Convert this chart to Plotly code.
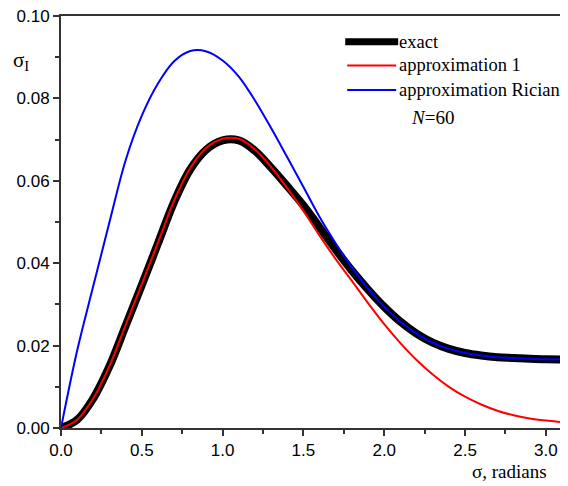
import plotly.graph_objects as go

# ---- data ----
x_exact = [0.0, 0.1, 0.2, 0.3, 0.4, 0.5, 0.6, 0.7, 0.8, 0.9, 1.0, 1.1,
           1.2, 1.3, 1.4, 1.5, 1.6, 1.7, 1.8, 1.9, 2.0, 2.1, 2.2, 2.3, 2.4, 2.5, 2.6,
           2.7, 2.8, 2.9, 3.0, 3.1416]
y_exact = [0.0, 0.0020, 0.0072, 0.0150, 0.0248, 0.0347, 0.0448, 0.0549, 0.0628, 0.0676,
           0.0698, 0.0698, 0.0673, 0.0632, 0.0587, 0.0540, 0.0487, 0.0433, 0.0382, 0.0336,
           0.0294, 0.0258, 0.0229, 0.0207, 0.0192, 0.0182, 0.0176, 0.0172, 0.0170, 0.0168,
           0.0167, 0.0166]

x_approx1 = [0.0, 0.1, 0.2, 0.3, 0.4, 0.5, 0.6, 0.7, 0.8, 0.9, 1.0, 1.1,
             1.2, 1.3, 1.4, 1.5, 1.6, 1.7, 1.8, 1.9, 2.0, 2.1, 2.2, 2.3, 2.4, 2.5, 2.6,
             2.7, 2.8, 2.9, 3.0, 3.1416]
y_approx1 = [0.0, 0.0020, 0.0072, 0.0151, 0.0250, 0.0349, 0.0450, 0.0552, 0.0631, 0.0680,
             0.0702, 0.0702, 0.0676, 0.0633, 0.0582, 0.0527, 0.0467, 0.0410, 0.0357, 0.0303,
             0.0252, 0.0206, 0.0165, 0.0130, 0.0100, 0.0076, 0.0057, 0.0042, 0.0031, 0.0023,
             0.0018, 0.0013]

x_rician = [0.0, 0.1, 0.2, 0.3, 0.4, 0.5, 0.6, 0.7, 0.8, 0.9, 1.0, 1.1, 1.2,
            1.3, 1.4, 1.5, 1.6, 1.7, 1.8, 1.9, 2.0, 2.1, 2.2, 2.3, 2.4, 2.5, 2.6, 2.7,
            2.8, 2.9, 3.0, 3.1416]
y_rician = [0.0, 0.0188, 0.0345, 0.0500, 0.0650, 0.0758, 0.0836, 0.0890, 0.0915, 0.0914,
            0.0892, 0.0853, 0.0795, 0.0728, 0.0657, 0.0585, 0.0512, 0.0448, 0.0390, 0.0338,
            0.0294, 0.0258, 0.0229, 0.0207, 0.0192, 0.0182, 0.0176, 0.0172, 0.0170, 0.0168,
            0.0167, 0.0166]

legend_labels = ["exact", "approximation 1", "approximation Rician"]
y_ticks = [0.0, 0.02, 0.04, 0.06, 0.08, 0.10]
y_ticktext = ["0.00", "0.02", "0.04", "0.06", "0.08", "0.10"]
x_ticks = [0.0, 0.5, 1.0, 1.5, 2.0, 2.5, 3.0]
x_ticktext = ["0.0", "0.5", "1.0", "1.5", "2.0", "2.5", "3.0"]

# the page body has an 8px margin; lay out in page pixels and shift into figure pixels
OFF = 8
W, H = 568 - OFF, 486 - OFF
L, R, T, B = 60.5 - OFF, 568.0 - OFF, 16.0 - OFF, 428.3 - OFF

fig = go.Figure()
fig.add_trace(go.Scatter(x=x_exact, y=y_exact, mode="lines", name=legend_labels[0],
                         line=dict(color="black", width=8, shape="spline", smoothing=1.0)))
fig.add_trace(go.Scatter(x=x_approx1, y=y_approx1, mode="lines", name=legend_labels[1],
                         line=dict(color="#ff0000", width=2, shape="spline", smoothing=1.0)))
fig.add_trace(go.Scatter(x=x_rician, y=y_rician, mode="lines", name=legend_labels[2],
                         line=dict(color="#0000ff", width=2, shape="spline", smoothing=1.0)))


def px2paper_x(px):
    return (px - OFF - L) / (R - L)


def px2paper_y(py):
    return (B - (py - OFF)) / (B - T)


shapes = []
annotations = []
serif = "Liberation Serif, Times New Roman, serif"
leg = [(legend_labels[0], "black", 7, 345, 398, 41.7),
       (legend_labels[1], "#ff0000", 2, 347, 396, 65.5),
       (legend_labels[2], "#0000ff", 2, 347, 396, 90.0)]
for text, col, w, x0, x1, yy in leg:
    shapes.append(dict(type="line", xref="paper", yref="paper",
                       x0=px2paper_x(x0), x1=px2paper_x(x1),
                       y0=px2paper_y(yy), y1=px2paper_y(yy),
                       line=dict(color=col, width=w)))
    annotations.append(dict(text=text, xref="paper", yref="paper",
                            x=px2paper_x(397), y=px2paper_y(yy), xanchor="left",
                            yanchor="middle", showarrow=False,
                            font=dict(family=serif, size=18.5, color="black")))

annotations.append(dict(text="<i>N</i>=60", xref="paper", yref="paper",
                        x=px2paper_x(409), y=px2paper_y(118), xanchor="left",
                        yanchor="middle", showarrow=False,
                        font=dict(family=serif, size=19, color="black")))
annotations.append(dict(text="σ<sub>I</sub>", xref="paper", yref="paper",
                        x=px2paper_x(10), y=px2paper_y(61), xanchor="left",
                        yanchor="middle", showarrow=False,
                        font=dict(family=serif, size=21, color="black")))
annotations.append(dict(text="σ, radians", xref="paper", yref="paper",
                        x=px2paper_x(549), y=px2paper_y(472), xanchor="right",
                        yanchor="middle", showarrow=False,
                        font=dict(family=serif, size=19, color="black")))

tickfont = dict(family="Liberation Sans, Arial, sans-serif", size=17, color="black")
fig.update_layout(
    width=W, height=H,
    margin=dict(l=L, r=W - R, t=T, b=H - B, pad=0, autoexpand=False),
    paper_bgcolor="white", plot_bgcolor="white",
    showlegend=False,
    shapes=shapes, annotations=annotations,
    xaxis=dict(range=[0, 3.137], tickvals=x_ticks, ticktext=x_ticktext, automargin=False,
               ticklabeloverflow="allow",
               ticks="outside", ticklen=6, tickwidth=1.5, tickcolor="#333",
               showline=True, linecolor="#333", linewidth=2, mirror=True,
               showgrid=False, zeroline=False, tickfont=tickfont,
               minor=dict(dtick=0.25, tick0=0, ticks="outside", ticklen=4,
                          tickwidth=1.5, tickcolor="#333", showgrid=False)),
    yaxis=dict(range=[0, 0.1], tickvals=y_ticks, ticktext=y_ticktext, automargin=False,
               ticklabeloverflow="allow",
               ticks="outside", ticklen=6, tickwidth=1.5, tickcolor="#333",
               showline=True, linecolor="#333", linewidth=2, mirror=True,
               showgrid=False, zeroline=False, tickfont=tickfont,
               minor=dict(dtick=0.01, tick0=0, ticks="outside", ticklen=4,
                          tickwidth=1.5, tickcolor="#333", showgrid=False)),
)

fig.write_html("out.html")
